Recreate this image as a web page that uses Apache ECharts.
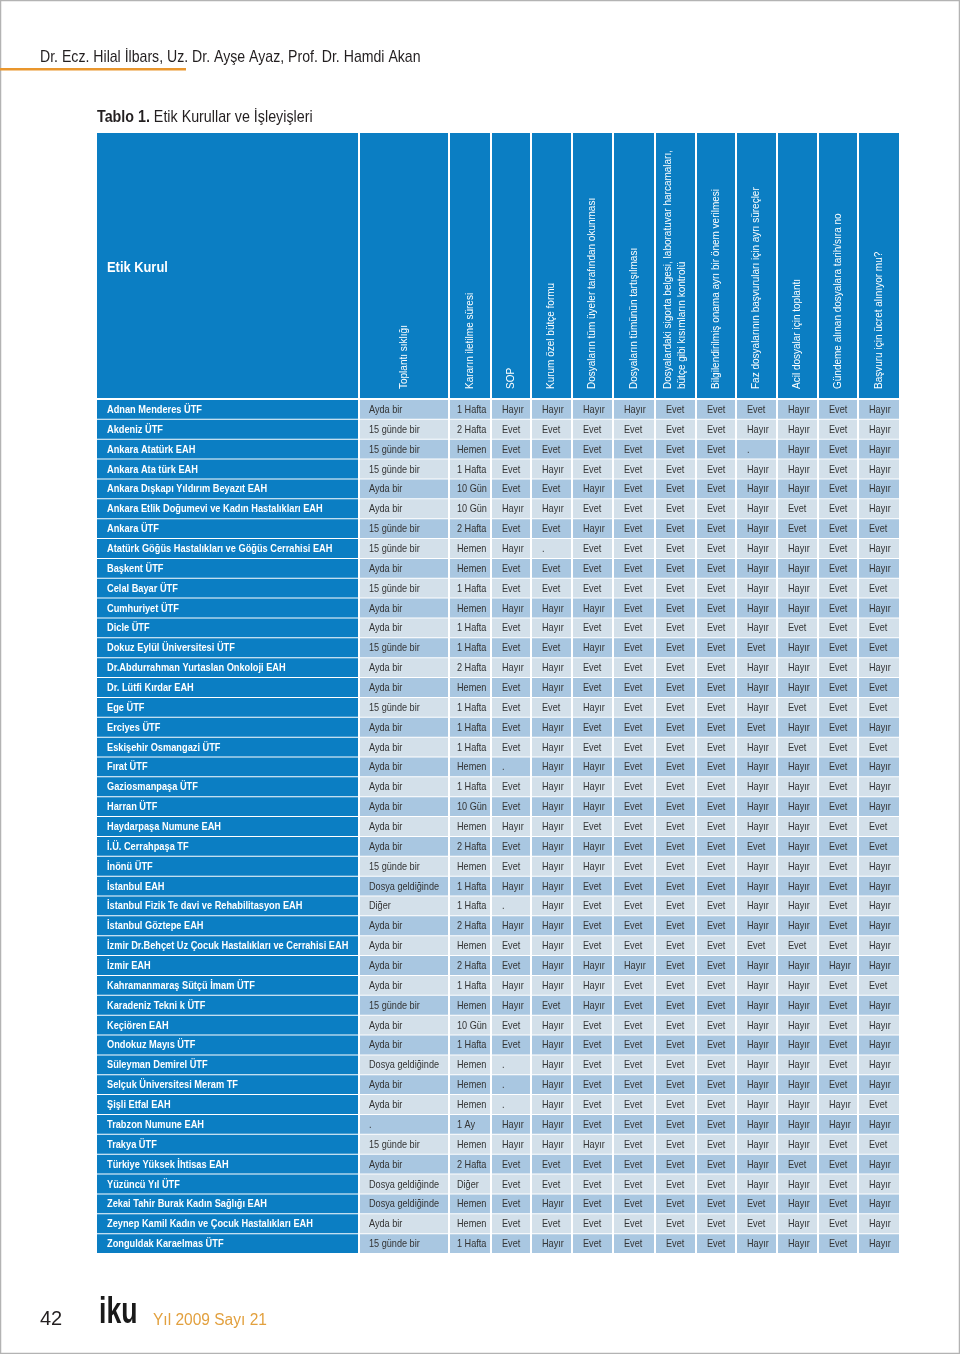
<!DOCTYPE html>
<html>
<head>
<meta charset="utf-8">
<script src="https://cdn.jsdelivr.net/npm/echarts@6.0.0/dist/echarts.min.js"></script>
<style>
  html, body { margin: 0; padding: 0; background: #ffffff; }
  #chart { width: 960px; height: 1354px; }
</style>
</head>
<body>
<div id="chart"></div>
<script>
// ---------------- DATA ----------------
const E = 'Evet', H = 'Hayır', D = '.';

const headers = [
  'Etik Kurul',
  'Toplantı sıklığı',
  'Kararın iletilme süresi',
  'SOP',
  'Kurum özel bütçe formu',
  'Dosyaların tüm üyeler tarafından okunması',
  'Dosyaların tümünün tartışılması',
  'Dosyalardaki sigorta belgesi, laboratuvar harcamaları,\nbütçe gibi kısımların kontrolü',
  'Bilgilendirilmiş onama ayrı bir önem verilmesi',
  'Faz dosyalarının başvuruları için ayrı süreçler',
  'Acil dosyalar için toplantı',
  'Gündeme alınan dosyalara tarih/sıra no',
  'Başvuru için ücret alınıyor mu?'
];

const names = [
  'Adnan Menderes ÜTF', 'Akdeniz ÜTF', 'Ankara Atatürk EAH', 'Ankara Ata türk EAH',
  'Ankara Dışkapı Yıldırım Beyazıt EAH', 'Ankara Etlik Doğumevi ve Kadın Hastalıkları EAH',
  'Ankara ÜTF', 'Atatürk Göğüs Hastalıkları ve Göğüs Cerrahisi EAH', 'Başkent ÜTF',
  'Celal Bayar ÜTF', 'Cumhuriyet ÜTF', 'Dicle ÜTF', 'Dokuz Eylül Üniversitesi ÜTF',
  'Dr.Abdurrahman Yurtaslan Onkoloji EAH', 'Dr. Lütfi Kırdar EAH', 'Ege ÜTF', 'Erciyes ÜTF',
  'Eskişehir Osmangazi ÜTF', 'Fırat ÜTF', 'Gaziosmanpaşa ÜTF', 'Harran ÜTF',
  'Haydarpaşa Numune EAH', 'İ.Ü. Cerrahpaşa TF', 'İnönü ÜTF', 'İstanbul EAH',
  'İstanbul Fizik Te davi ve Rehabilitasyon EAH', 'İstanbul Göztepe EAH',
  'İzmir Dr.Behçet Uz Çocuk Hastalıkları ve Cerrahisi EAH', 'İzmir EAH',
  'Kahramanmaraş Sütçü İmam ÜTF', 'Karadeniz Tekni k ÜTF', 'Keçiören EAH',
  'Ondokuz Mayıs ÜTF', 'Süleyman Demirel ÜTF', 'Selçuk Üniversitesi Meram TF',
  'Şişli Etfal EAH', 'Trabzon Numune EAH', 'Trakya ÜTF', 'Türkiye Yüksek İhtisas EAH',
  'Yüzüncü Yıl ÜTF', 'Zekai Tahir Burak Kadın Sağlığı EAH',
  'Zeynep Kamil Kadın ve Çocuk Hastalıkları EAH', 'Zonguldak Karaelmas ÜTF'
];

const A = 'Ayda bir', G15 = '15 günde bir', DG = 'Dosya geldiğinde', DI = 'Diğer';
const meetingFreq = [
  A, G15, G15, G15, A, A, G15, G15, A, G15,
  A, A, G15, A, A, G15, A, A, A, A,
  A, A, A, G15, DG, DI, A, A, A, A,
  G15, A, A, DG, A, A, D, G15, A, DG,
  DG, A, G15
];

const W1 = '1 Hafta', W2 = '2 Hafta', HM = 'Hemen', G10 = '10 Gün';
const decisionTime = [
  W1, W2, HM, W1, G10, G10, W2, HM, HM, W1,
  HM, W1, W1, W2, HM, W1, W1, W1, HM, W1,
  G10, HM, W2, HM, W1, W1, W2, HM, W2, W1,
  HM, G10, W1, HM, HM, HM, '1 Ay', HM, W2, 'Diğer',
  HM, HM, W1
];

const sop = [
  H, E, E, E, E, H, E, H, E, E,
  H, E, E, H, E, E, E, E, D, E,
  E, H, E, E, H, D, H, E, E, H,
  H, E, E, D, D, D, H, H, E, E,
  E, E, E
];
const budgetForm = [
  H, E, E, H, E, H, E, D, E, E,
  H, H, E, H, H, E, H, H, H, H,
  H, H, H, H, H, H, H, H, H, H,
  E, H, H, H, H, H, H, H, E, E,
  H, E, H
];
const readByAll = [
  H, E, E, E, H, E, H, E, E, E,
  H, E, H, E, E, H, E, E, H, H,
  H, E, H, H, E, E, E, E, H, H,
  H, E, E, E, E, E, E, H, E, E,
  E, E, E
];
const discussAll = [
  H, E, E, E, E, E, E, E, E, E,
  E, E, E, E, E, E, E, E, E, E,
  E, E, E, E, E, E, E, E, H, E,
  E, E, E, E, E, E, E, E, E, E,
  E, E, E
];
const insuranceCheck = [
  E, E, E, E, E, E, E, E, E, E,
  E, E, E, E, E, E, E, E, E, E,
  E, E, E, E, E, E, E, E, E, E,
  E, E, E, E, E, E, E, E, E, E,
  E, E, E
];
const consentFocus = [
  E, E, E, E, E, E, E, E, E, E,
  E, E, E, E, E, E, E, E, E, E,
  E, E, E, E, E, E, E, E, E, E,
  E, E, E, E, E, E, E, E, E, E,
  E, E, E
];
const phaseProcess = [
  E, H, D, H, H, H, H, H, H, H,
  H, H, E, H, H, H, E, H, H, H,
  H, H, E, H, H, H, H, E, H, H,
  H, H, H, H, H, H, H, H, H, H,
  E, E, H
];
const urgentMeeting = [
  H, H, H, H, H, E, E, H, H, H,
  H, E, H, H, H, E, H, E, H, H,
  H, H, H, H, H, H, H, E, H, H,
  H, H, H, H, H, H, H, H, E, H,
  H, H, H
];
const agendaNumber = [
  E, E, E, E, E, E, E, E, E, E,
  E, E, E, E, E, E, E, E, E, E,
  E, E, E, E, E, E, E, E, H, E,
  E, E, E, E, E, H, H, E, E, E,
  E, E, E
];
const feeCharged = [
  H, H, H, H, H, H, E, H, H, E,
  H, E, E, H, E, E, H, E, H, H,
  H, E, E, H, H, H, H, H, H, E,
  H, H, H, H, H, E, H, E, H, H,
  H, H, H
];

const columns = [names, meetingFreq, decisionTime, sop, budgetForm, readByAll, discussAll,
  insuranceCheck, consentFocus, phaseProcess, urgentMeeting, agendaNumber, feeCharged];

// ---------------- LAYOUT / STYLE ----------------
const COL_EDGES = [0, 263, 353, 395, 435, 476, 517, 559, 600, 640, 681, 722, 762, 802];
const TEXT_PAD = [10, 9, 7, 10, 10, 10, 10, 10, 10, 10, 10, 10, 10];
const BLUE = '#0b7ec3';
const ROW_DARK = '#a9c7e1';
const ROW_LIGHT = '#d3e0ea';
const FONT = '"Liberation Sans", Arial, sans-serif';

const headerData = headers.map((h, c) => ({ value: [c, 0] }));
const bodyData = [];
for (let r = 0; r < names.length; r++) {
  for (let c = 0; c < columns.length; c++) bodyData.push({ value: [c, r] });
}

function renderHeader(params, api) {
  const c = api.value(0);
  const tl = api.coord([COL_EDGES[c], 1]);
  const br = api.coord([COL_EDGES[c + 1], 0]);
  const gap = c < columns.length - 1 ? 2 : 0;
  const x = tl[0], y = tl[1], w = br[0] - tl[0] - gap, h = br[1] - tl[1];
  const children = [{ type: 'rect', shape: { x, y, width: w, height: h }, style: { fill: BLUE } }];
  if (c === 0) {
    children.push({
      type: 'text', x: x + 10, y: y + h / 2 + 3, scaleX: 0.92,
      style: { text: headers[c], fill: '#ffffff', font: 'bold 14px ' + FONT,
        align: 'left', verticalAlign: 'middle', textAlign: 'left', textVerticalAlign: 'middle' }
    });
  } else {
    children.push({
      type: 'text', x: x + w / 2, y: y + h - 9, rotation: Math.PI / 2,
      style: { text: headers[c], fill: '#ffffff', font: '10px ' + FONT, lineHeight: 14,
        align: 'left', verticalAlign: 'middle', textAlign: 'left', textVerticalAlign: 'middle' }
    });
  }
  return { type: 'group', children };
}

function renderBody(params, api) {
  const c = api.value(0), r = api.value(1);
  const a = api.coord([COL_EDGES[c], r]);
  const b = api.coord([COL_EDGES[c + 1], r]);
  const bh = api.size([0, 1])[1];
  const gap = c < columns.length - 1 ? 2 : 0;
  const x = a[0], w = b[0] - a[0] - gap;
  const y = a[1] - bh / 2, h = bh - 1;
  const isName = c === 0;
  const fill = isName ? BLUE : (r % 2 === 0 ? ROW_DARK : ROW_LIGHT);
  return {
    type: 'group',
    children: [
      { type: 'rect', shape: { x, y, width: w, height: h }, style: { fill } },
      {
        type: 'text', x: x + TEXT_PAD[c], y: y + h / 2 + 0.5, scaleX: isName ? 0.84 : 0.83,
        style: {
          text: columns[c][r], fill: isName ? '#ffffff' : '#333333',
          font: (isName ? 'bold ' : '') + '11px ' + FONT,
          align: 'left', verticalAlign: 'middle', textAlign: 'left', textVerticalAlign: 'middle'
        }
      }
    ]
  };
}

const chart = echarts.init(document.getElementById('chart'), null, { renderer: 'canvas' });
chart.setOption({
  animation: false,
  backgroundColor: '#ffffff',
  grid: [
    { left: 97, top: 133, width: 802, height: 265 },
    { left: 97, top: 400, width: 802, height: 854 }
  ],
  xAxis: [
    { gridIndex: 0, type: 'value', min: 0, max: 802, show: false },
    { gridIndex: 1, type: 'value', min: 0, max: 802, show: false }
  ],
  yAxis: [
    { gridIndex: 0, type: 'value', min: 0, max: 1, show: false },
    { gridIndex: 1, type: 'category', data: names, inverse: true, show: false }
  ],
  graphic: [
    { type: 'rect', shape: { x: 0.5, y: 0.5, width: 959, height: 1353 },
      style: { fill: 'none', stroke: '#b3b3b3', lineWidth: 1.5 } },
    { type: 'rect', shape: { x: 0, y: 68, width: 186, height: 2.5 }, style: { fill: '#e9962d' } },
    { type: 'text', x: 40, y: 57, scaleX: 0.83,
      style: { text: 'Dr. Ecz. Hilal İlbars, Uz. Dr. Ayşe Ayaz, Prof. Dr. Hamdi Akan',
        font: '17px ' + FONT, fill: '#231f20', textVerticalAlign: 'middle', verticalAlign: 'middle' } },
    { type: 'text', x: 97, y: 117, scaleX: 0.84,
      style: { text: '{b|Tablo 1.} Etik Kurullar ve İşleyişleri',
        font: '17px ' + FONT, fill: '#231f20', textVerticalAlign: 'middle', verticalAlign: 'middle',
        rich: { b: { font: 'bold 17px ' + FONT, fill: '#231f20' } } } },
    { type: 'text', x: 40, y: 1319,
      style: { text: '42', font: '20px ' + FONT, fill: '#231f20', textVerticalAlign: 'middle', verticalAlign: 'middle' } },
    { type: 'text', x: 99, y: 1313, scaleX: 0.72,
      style: { text: 'iku', font: 'bold 37px ' + FONT, fill: '#1a1a1a', textVerticalAlign: 'middle', verticalAlign: 'middle' } },
    { type: 'text', x: 153, y: 1321, scaleX: 0.97,
      style: { text: 'Yıl 2009 Sayı 21', font: '16px ' + FONT, fill: '#e2a03e', textVerticalAlign: 'middle', verticalAlign: 'middle' } }
  ],
  series: [
    { type: 'custom', name: 'header', xAxisIndex: 0, yAxisIndex: 0, renderItem: renderHeader,
      data: headerData, silent: true },
    { type: 'custom', name: 'body', xAxisIndex: 1, yAxisIndex: 1, renderItem: renderBody,
      data: bodyData, silent: true }
  ]
});
</script>
</body>
</html>
